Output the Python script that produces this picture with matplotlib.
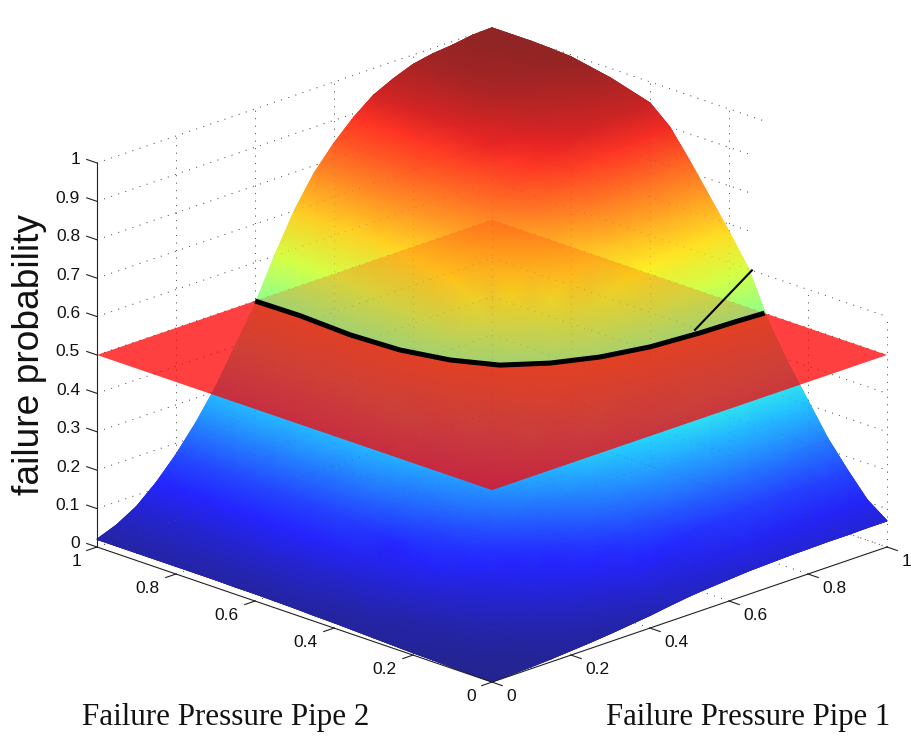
"""Failure probability surface over two pipe failure pressures, cut by the 0.5 plane."""

import matplotlib

matplotlib.use("Agg")
import matplotlib.pyplot as plt
import numpy as np
from matplotlib.collections import QuadMesh
from matplotlib.colors import ListedColormap
from mpl_toolkits.mplot3d import proj3d
from mpl_toolkits.mplot3d.art3d import Poly3DCollection

W, H = 911, 752

pipe1 = [0.00, 0.05, 0.10, 0.15, 0.20, 0.25, 0.30, 0.35, 0.40, 0.45, 0.50,
         0.55, 0.60, 0.65, 0.70, 0.75, 0.80, 0.85, 0.90, 0.95, 1.00]
pipe2 = list(pipe1)

# rows follow pipe 2, columns follow pipe 1
failure_prob = [
    [.001, .003, .005, .008, .012, .016, .021, .027, .033, .041, .048, .053, .057, .061, .063, .065, .066, .067, .067, .068, .068],
    [.002, .004, .007, .012, .018, .025, .033, .042, .051, .063, .074, .082, .088, .093, .098, .100, .102, .103, .104, .105, .105],
    [.003, .007, .012, .019, .028, .039, .051, .066, .081, .099, .116, .129, .139, .147, .153, .158, .161, .163, .163, .165, .165],
    [.005, .009, .016, .026, .039, .054, .071, .092, .113, .138, .161, .179, .193, .205, .214, .220, .224, .227, .228, .230, .230],
    [.006, .012, .022, .036, .053, .073, .096, .124, .152, .186, .217, .242, .260, .276, .288, .296, .302, .305, .307, .309, .310],
    [.008, .016, .027, .045, .066, .092, .121, .156, .191, .234, .273, .304, .328, .347, .363, .372, .380, .384, .386, .389, .390],
    [.010, .019, .034, .055, .082, .113, .149, .192, .235, .288, .336, .374, .403, .427, .446, .458, .468, .473, .475, .479, .480],
    [.012, .024, .042, .069, .102, .141, .186, .240, .294, .360, .420, .468, .504, .534, .558, .573, .585, .591, .594, .599, .600],
    [.014, .027, .048, .078, .116, .160, .211, .272, .333, .408, .476, .530, .571, .605, .632, .649, .663, .670, .673, .679, .680],
    [.015, .030, .053, .087, .128, .177, .234, .302, .370, .453, .529, .589, .634, .672, .702, .721, .736, .744, .747, .753, .755],
    [.017, .033, .058, .095, .141, .195, .257, .332, .407, .498, .581, .647, .697, .739, .772, .793, .809, .818, .822, .828, .830],
    [.018, .036, .063, .104, .153, .212, .279, .360, .441, .540, .630, .702, .756, .801, .837, .860, .878, .887, .891, .898, .900],
    [.019, .038, .066, .109, .161, .222, .293, .378, .463, .567, .662, .737, .794, .841, .879, .902, .921, .931, .936, .943, .945],
    [.019, .038, .067, .110, .163, .226, .298, .384, .470, .576, .672, .749, .806, .854, .893, .917, .936, .946, .950, .958, .960],
    [.020, .039, .068, .112, .166, .229, .302, .390, .478, .585, .683, .761, .819, .868, .907, .931, .951, .960, .965, .973, .975],
    [.020, .039, .069, .113, .167, .231, .305, .394, .483, .591, .690, .768, .827, .877, .916, .941, .960, .970, .975, .983, .985],
    [.020, .040, .070, .114, .169, .234, .308, .398, .488, .597, .697, .776, .836, .886, .925, .950, .970, .980, .985, .993, .995],
    [.020, .040, .070, .115, .170, .235, .309, .399, .489, .599, .699, .778, .838, .888, .928, .953, .973, .983, .988, .996, .998],
    [.020, .040, .070, .115, .170, .235, .310, .400, .490, .600, .700, .780, .840, .890, .930, .955, .975, .985, .990, .998, 1.00],
    [.020, .040, .070, .115, .170, .235, .310, .400, .490, .600, .700, .780, .840, .890, .930, .955, .975, .985, .990, .998, 1.00],
    [.020, .040, .070, .115, .170, .235, .310, .400, .490, .600, .700, .780, .840, .890, .930, .955, .975, .985, .990, .998, 1.00],
]

plane_level = 0.5
curve_pipe1 = [.400, .4025, .395, .402, .4285, .4725, .5435, .629, .730, .8455, .930, 1.00]
curve_pipe2 = [1.00, .8885, .754, .635, .5345, .4525, .3965, .356, .330, .3185, .315, .310]

pointer_pipe1 = [.85, 1.0]
pointer_pipe2 = [.336, .342]
pointer_prob = [.5, .6]

base_ticks = [0, 0.2, 0.4, 0.6, 0.8, 1]
base_labels = ["0", "0.2", "0.4", "0.6", "0.8", "1"]
prob_ticks = [0, .1, .2, .3, .4, .5, .6, .7, .8, .9, 1]
prob_labels = ["0", "0.1", "0.2", "0.3", "0.4", "0.5", "0.6", "0.7", "0.8", "0.9", "1"]


class ProjectedMesh(QuadMesh):
    """Gouraud mesh already projected by the 3D axes, so it can sit in its zorder slot."""

    def do_3d_projection(self):
        return 0


plt.rcParams["font.family"] = ["Liberation Sans", "DejaVu Sans"]

fig = plt.figure(figsize=(W / 100, H / 100), dpi=100)
ax = fig.add_axes([0, 0, 1, 1], projection="3d", computed_zorder=False)
ax.set_proj_type("ortho")
ax.view_init(elev=20, azim=-135)
ax.set_box_aspect((1, 1, 0.7316))
ax.set_xlim(0, 1)
ax.set_ylim(0, 1)
ax.set_zlim(0, 1)
ax.set_axis_off()


def to_2d(x, y, z):
    u, v, _ = proj3d.proj_transform(x, y, z, ax.get_proj())
    return u, v


def to_px(x, y, z):
    return ax.transData.transform(to_2d(x, y, z))


# fit the box onto the corner pixels of the reference
side = 900.0
ax.set_position([0, 0, side / W, side / H])
ax.apply_aspect()
side *= 790 / (to_px(1, 0, 0)[0] - to_px(0, 1, 0)[0])
ax.set_position([0, 0, side / W, side / H])
ax.apply_aspect()
corner = to_px(0, 1, 0)
ax.set_position([(97 - corner[0]) / W, (H - 547 - corner[1]) / H, side / W, side / H])
ax.apply_aspect()


def draw_grid(**style):
    # dotted grid on the back walls and the floor
    for z in prob_ticks:
        ax.plot([0, 1], [1, 1], [z, z], **style)
        if z <= 0.6:
            end = 0.0
        elif z < 1:
            end = 0.347
        else:
            end = 0.309
        ax.plot([1, 1], [1, end], [z, z], **style)
    for t in base_ticks[1:]:
        ax.plot([t, t], [1, 1], [0, 1], **style)
        ax.plot([t, t], [0, 1], [0, 0], **style)
        ax.plot([0, 1], [t, t], [0, 0], **style)
    for t in base_ticks[:-1]:
        ax.plot([1, 1], [t, t], [0, 0.6 if t < 0.3 else 1], **style)


dots = dict(color="#555555", lw=0.7, linestyle=(0, (1, 6.7)))
draw_grid(zorder=0, **dots)

# the surface looks see-through, so its colours are washed with white up front
# and the plane behind it becomes a faint tint; a repeated mesh hides the triangle seams
jet = plt.get_cmap("jet")(np.linspace(0, 1, 256))[:, :3]
washed_jet = ListedColormap(0.86 * jet + 0.14)

X, Y = np.meshgrid(pipe1, pipe2)
Z = np.array(failure_prob)
U, V = to_2d(X.ravel(), Y.ravel(), Z.ravel())
coords = np.column_stack([U, V]).reshape(X.shape + (2,))
for _ in range(3):
    mesh = ProjectedMesh(coords, shading="gouraud", cmap=washed_jet, norm=plt.Normalize(0, 1),
                         zorder=1, transform=ax.transData)
    mesh.set_array(Z)
    ax.add_collection(mesh, autolim=False)

draw_grid(zorder=1.5, alpha=0.3, **dots)

plane_back = list(zip(curve_pipe1, curve_pipe2, [plane_level] * len(curve_pipe1)))
plane_back.append((1, 1, plane_level))
plane_front = list(zip(curve_pipe1, curve_pipe2, [plane_level] * len(curve_pipe1)))
plane_front += [(1, 0, plane_level), (0, 0, plane_level), (0, 1, plane_level)]

ax.add_collection3d(Poly3DCollection([plane_back], facecolors=(1, 0.1, 0, 0.2), edgecolors="none", zorder=2))
ax.add_collection3d(Poly3DCollection([plane_front], facecolors=(1, 0, 0, 0.75), edgecolors="none", zorder=3))

ax.plot(curve_pipe1, curve_pipe2, [plane_level] * len(curve_pipe1), color="black", lw=3.6,
        solid_capstyle="butt", solid_joinstyle="round", zorder=4)
ax.plot(pointer_pipe1, pointer_pipe2, pointer_prob, color="black", lw=1.5, zorder=5)

# axis lines and ticks, MATLAB style
axis_style = dict(color="#222222", lw=0.8, zorder=6)
tick_len = 0.026
ax.plot([0, 1], [0, 0], [0, 0], **axis_style)
ax.plot([0, 0], [0, 1], [0, 0], **axis_style)
ax.plot([0, 0], [1, 1], [0, 1], **axis_style)


def tick_label(text, pos, offset, ha):
    ax.annotate(text, xy=to_2d(*pos), xytext=offset, textcoords="offset pixels",
                ha=ha, va="center", fontsize=12.5, color="#111111", annotation_clip=False)


for t, lab in zip(base_ticks, base_labels):
    ax.plot([t, t], [0, -tick_len], [0, 0], **axis_style)
    ax.plot([0, -tick_len], [t, t], [0, 0], **axis_style)
    tick_label(lab, (t, 0, 0), (14.5, -14), "left")
    tick_label(lab, (0, t, 0), (-16, -14), "right")

for z, lab in zip(prob_ticks, prob_labels):
    ax.plot([0, 0], [1, 1 + tick_len], [z, z], **axis_style)
    tick_label(lab, (0, 1, z), (-17, 3), "right")

fig.text(30 / W, 1 - 355 / H, "failure probability", rotation=90, ha="center", va="center",
         fontsize=26.7, color="#111111")
serif = ["Liberation Serif", "DejaVu Serif"]
fig.text(226 / W, 1 - 718 / H, "Failure Pressure Pipe 2", ha="center", va="center",
         fontsize=22.3, family=serif, color="#111111")
fig.text(748.5 / W, 1 - 718 / H, "Failure Pressure Pipe 1", ha="center", va="center",
         fontsize=22.1, family=serif, color="#111111")

fig.savefig("out.png", dpi=100, facecolor="white")
